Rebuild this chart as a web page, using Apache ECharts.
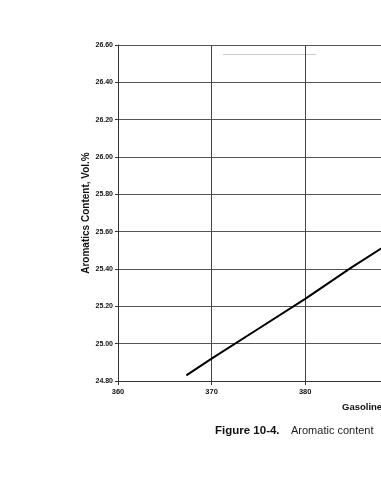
<!DOCTYPE html>
<html>
<head>
<meta charset="utf-8">
<script src="https://cdn.jsdelivr.net/npm/echarts@6/dist/echarts.min.js"></script>
<style>
html,body{margin:0;padding:0;background:#fff;overflow:hidden;width:381px;height:480px;}
#chart{width:600px;height:480px;}
</style>
</head>
<body>
<div id="chart"></div>
<script>
const xValues = [367.3, 370, 375, 380, 385, 390];
const yValues = [24.83, 24.92, 25.08, 25.24, 25.41, 25.57];
const yTicks = ['24.80','25.00','25.20','25.40','25.60','25.80','26.00','26.20','26.40','26.60'];
const xAxisName = 'Gasoline';
const yAxisName = 'Aromatics Content, Vol.%';
const captionBold = 'Figure 10-4.';
const captionText = 'Aromatic content';

const chart = echarts.init(document.getElementById('chart'));
const font = '"Liberation Sans", Arial, sans-serif';
chart.setOption({
  backgroundColor: '#fff',
  animation: false,
  grid: {left: 118, top: 45, width: 374.4, height: 336},
  xAxis: {
    type: 'value', min: 360, max: 400, interval: 10,
    axisLine: {show: true, lineStyle: {color: '#333', width: 1}},
    axisTick: {show: true, inside: false, length: 4, lineStyle: {color: '#333'}},
    splitLine: {show: true, lineStyle: {color: '#444', width: 1}},
    axisLabel: {color: '#111', fontSize: 7.5, fontWeight: 'bold', fontFamily: font, margin: 7}
  },
  yAxis: {
    type: 'value', min: 24.8, max: 26.6, interval: 0.2,
    name: yAxisName, nameLocation: 'middle', nameGap: 27, nameRotate: 90,
    nameMoveOverlap: false,
    nameTextStyle: {color: '#111', fontSize: 10, fontWeight: 'bold', fontFamily: font},
    axisLine: {show: true, lineStyle: {color: '#333', width: 1}},
    axisTick: {show: true, length: 3, lineStyle: {color: '#333'}},
    splitLine: {show: true, lineStyle: {color: '#555', width: 1}},
    axisLabel: {color: '#111', fontSize: 7, fontWeight: 'bold', fontFamily: font, margin: 5,
      formatter: v => yTicks.find(t => Math.abs(parseFloat(t) - v) < 1e-6) || v.toFixed(2)}
  },
  series: [{
    type: 'line',
    data: xValues.map((x, i) => [x, yValues[i]]),
    showSymbol: false,
    lineStyle: {color: '#000', width: 2},
    silent: true
  }],
  graphic: [
    {type: 'line', shape: {x1: 223, y1: 54.5, x2: 316, y2: 54.5}, style: {stroke: '#ccc', lineWidth: 1}},
    {type: 'text', left: 342, top: 402, style: {text: xAxisName, fill: '#111', font: 'bold 9.5px ' + font}},
    {type: 'text', left: 215, top: 425, style: {text: captionBold, fill: '#111', font: 'bold 11.5px ' + font}},
    {type: 'text', left: 291, top: 425, style: {text: captionText, fill: '#222', font: '11px ' + font}}
  ]
});
</script>
</body>
</html>
